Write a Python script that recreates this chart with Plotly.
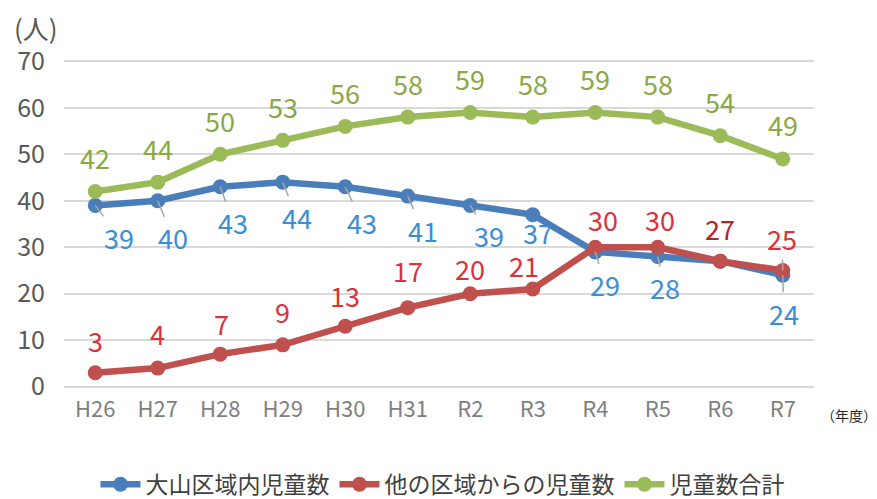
import plotly.graph_objects as go

years = ["H26", "H27", "H28", "H29", "H30", "H31", "R2", "R3", "R4", "R5", "R6", "R7"]
oyama = [39, 40, 43, 44, 43, 41, 39, 37, 29, 28, 27, 24]
other = [3, 4, 7, 9, 13, 17, 20, 21, 30, 30, 27, 25]
total = [42, 44, 50, 53, 56, 58, 59, 58, 59, 58, 54, 49]
series_names = ["大山区域内児童数", "他の区域からの児童数", "児童数合計"]
y_ticks = [0, 10, 20, 30, 40, 50, 60, 70]

FONT = "Noto Sans CJK JP, Noto Sans, sans-serif"
line_colors = ["#4a7ebb", "#c0504d", "#9bbb59"]
text_colors = ["#3b8ed4", "#d8323a", "#8aa845"]

# label offsets in pixels (dx, dy); None = no label
blue_off = [(24, 32), (15, 37), (13, 36), (14, 35), (17, 36), (15, 34), (19, 30),
            (5, 18), (10, 33), (7, 31), None, (1, 38)]
red_off = [(0, -32), (0, -35), (1, -31), (0, -33), (0, -31), (0, -37), (0, -25),
           (-9, -24), (8, -28), (2, -28), (0, -33), (-1, -32)]
green_off = [(0, -34)] * 12

fig = go.Figure()
for vals, name, lc in zip([oyama, other, total], series_names, line_colors):
    fig.add_trace(go.Scatter(
        x=years, y=vals, name=name, mode="lines+markers",
        line=dict(color=lc, width=6.5),
        marker=dict(color=lc, size=15),
        hoverinfo="skip",
    ))

annotations = []
for vals, offs, tc, leader in [(oyama, blue_off, text_colors[0], True),
                               (other, red_off, text_colors[1], False),
                               (total, green_off, text_colors[2], False)]:
    for i, (x, v) in enumerate(zip(years, vals)):
        off = offs[i]
        if off is None:
            continue
        dx, dy = off
        color = tc
        if vals is other and x == "R6":
            color = "#b5222a"
        if leader or (vals is other and x == "R7"):
            annotations.append(dict(
                x=x, y=v, xref="x", yref="y", text=str(v),
                showarrow=True, ax=dx, ay=dy, arrowhead=0, arrowwidth=1.5,
                arrowcolor="#a6a6a6", standoff=0,
                font=dict(family=FONT, size=27, color=color)))
        else:
            annotations.append(dict(
                x=x, y=v, xref="x", yref="y", text=str(v), showarrow=False,
                xshift=dx, yshift=-dy,
                font=dict(family=FONT, size=27, color=color)))

annotations.append(dict(text="(人)", xref="paper", yref="paper", x=-0.069, y=1.095,
                        xanchor="left", yanchor="middle", showarrow=False,
                        font=dict(family=FONT, size=26, color="#595959")))
annotations.append(dict(text="（年度）", xref="paper", yref="paper", x=1.006, y=-0.078,
                        xanchor="left", yanchor="middle", showarrow=False,
                        font=dict(family=FONT, size=14, color="#262626")))

fig.update_layout(
    width=869, height=491,
    margin=dict(l=56, r=63, t=51, b=110, autoexpand=False),
    paper_bgcolor="white", plot_bgcolor="white",
    showlegend=True,
    legend=dict(orientation="h", x=0.5, xanchor="center", xref="container",
                y=0.03, yanchor="middle", yref="container",
                font=dict(family=FONT, size=23, color="#404040"),
                itemwidth=40, tracegroupgap=0),
    xaxis=dict(type="category", range=[-0.5, 11.5], showgrid=False, zeroline=False,
               showline=False, ticks="", automargin=False, ticklabelstandoff=5,
               tickfont=dict(family=FONT, size=22, color="#7f7f7f")),
    yaxis=dict(range=[-0.5, 70.5], tickvals=y_ticks, showgrid=True,
               gridcolor="#d9d9d9", gridwidth=2, zeroline=False, showline=False,
               ticklabelstandoff=18, automargin=False,
               tickfont=dict(family=FONT, size=25, color="#595959")),
    annotations=annotations,
)

fig.write_html("out.html")
